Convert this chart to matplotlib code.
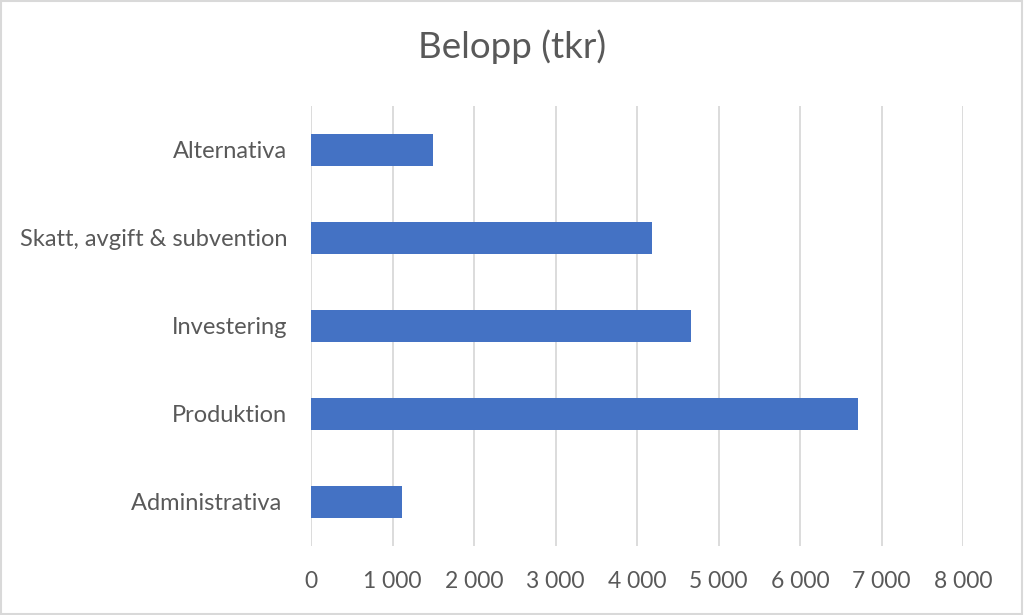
import matplotlib
matplotlib.use("Agg")
import matplotlib.pyplot as plt
from matplotlib.ticker import FuncFormatter
from matplotlib.patches import Rectangle

categories = ["Administrativa ", "Produktion", "Investering",
              "Skatt, avgift & subvention", "Alternativa"]
values = [1120, 6715, 4660, 4190, 1500]
x_ticks = [0, 1000, 2000, 3000, 4000, 5000, 6000, 7000, 8000]

TEXT = "#595959"
BAR = "#4472C4"
GRID = "#D9D9D9"

plt.rcParams["font.family"] = ["Lato", "DejaVu Sans"]

fig = plt.figure(figsize=(10.24, 6.15), dpi=100)
ax = fig.add_axes([311 / 1024, 1 - 546 / 615, (963 - 311) / 1024, (546 - 106) / 615])

ax.barh(range(len(categories)), values, height=0.36, color=BAR, zorder=3)
ax.set_xlim(0, 8000)
ax.set_ylim(-0.5, len(categories) - 0.5)
ax.set_xticks(x_ticks)
ax.xaxis.set_major_formatter(FuncFormatter(lambda v, _: f"{int(v):,}".replace(",", " ")))
ax.set_yticks(range(len(categories)))
ax.set_yticklabels(categories)
ax.tick_params(axis="x", length=0, labelsize=16.5, colors=TEXT, pad=18)
ax.tick_params(axis="y", length=0, labelsize=17, colors=TEXT, pad=17)
ax.grid(axis="x", color=GRID, linewidth=1.3, zorder=0)
for s in ax.spines.values():
    s.set_visible(False)

fig.text(0.5, 1 - 47 / 615, "Belopp (tkr)", ha="center", va="center",
         fontsize=26.5, color=TEXT)

fig.patches.append(Rectangle((0.001, 0.001), 0.997, 0.997, transform=fig.transFigure,
                             fill=False, edgecolor="#D9D9D9", linewidth=1.5))

fig.savefig("out.png", dpi=100)
